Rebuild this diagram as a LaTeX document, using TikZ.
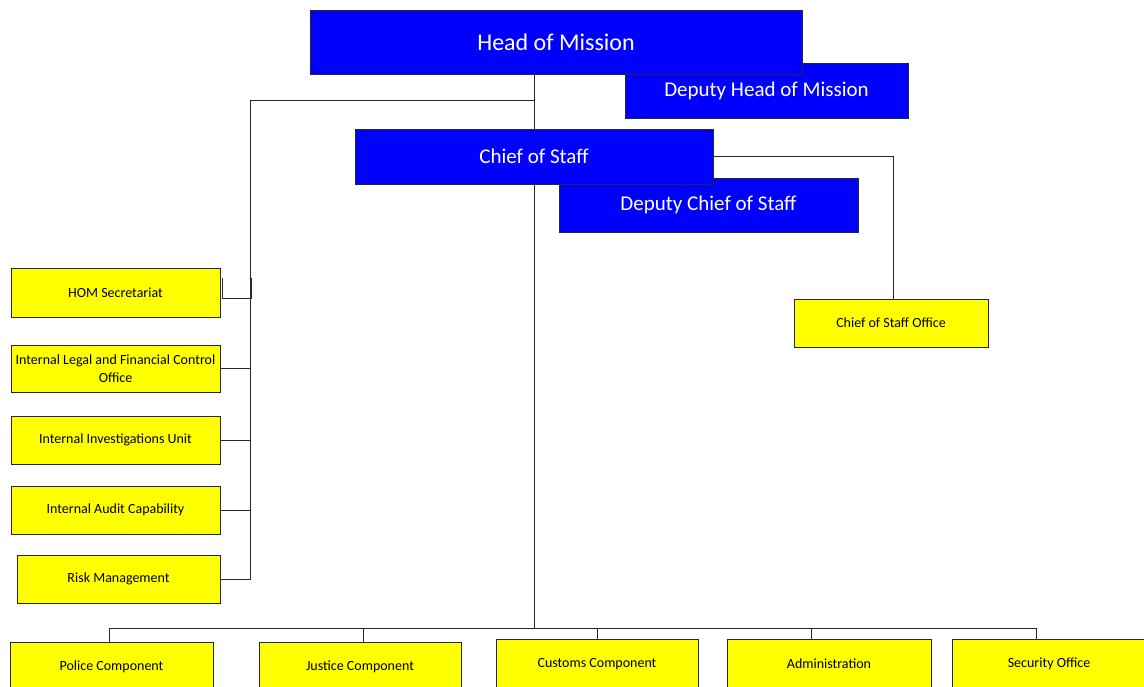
\documentclass[tikz,border=0pt]{standalone}
\usepackage{fontspec}
\setmainfont{Carlito}
\usetikzlibrary{calc}
\definecolor{boxblue}{RGB}{0,0,255}
\definecolor{boxyellow}{RGB}{255,255,0}
\definecolor{edgegray}{RGB}{40,40,40}
\begin{document}
\begin{tikzpicture}[x=1pt,y=-1pt,
  bluebox/.style={draw=edgegray, line width=0.9pt, fill=boxblue, text=white, inner sep=0pt, align=center},
  yelbox/.style={draw=edgegray, line width=0.9pt, fill=boxyellow, text=black, inner sep=0pt, align=center, font=\fontsize{14}{18}\selectfont},
  conn/.style={draw=edgegray, line width=0.9pt}]
\useasboundingbox (0,0) rectangle (1144,686);
\clip (0,0) rectangle (1144,686);
\fill[white] (0,0) rectangle (1144,686);

% blue boxes (deputies behind)
\node[bluebox, minimum width=283pt, minimum height=55pt, font=\fontsize{21}{24}\selectfont] (dhom) at (766.5,90.5) {Deputy Head of Mission};
\node[bluebox, minimum width=492pt, minimum height=64pt, font=\fontsize{24}{28}\selectfont] (hom) at (556,42) {Head of Mission};
\node[bluebox, minimum width=299pt, minimum height=54pt, font=\fontsize{21}{24}\selectfont] (dcos) at (708.5,205) {Deputy Chief of Staff};
\node[bluebox, minimum width=358pt, minimum height=55pt, font=\fontsize{21}{24}\selectfont] (cos) at (534,156.5) {Chief of Staff};

% yellow boxes
\node[yelbox, minimum width=194pt, minimum height=48pt] (coso) at (891,323) {Chief of Staff Office};
\node[yelbox, minimum width=209pt, minimum height=49pt] (hsec) at (115.5,292.5) {HOM Secretariat};
\node[yelbox, minimum width=209pt, minimum height=47pt] (ilf) at (115.5,368.5) {Internal Legal and Financial Control\\Office};
\node[yelbox, minimum width=209pt, minimum height=48pt] (iiu) at (115.5,440) {Internal Investigations Unit};
\node[yelbox, minimum width=209pt, minimum height=48pt] (iac) at (115.5,510) {Internal Audit Capability};
\node[yelbox, minimum width=203pt, minimum height=48pt] (risk) at (118.5,579) {Risk Management};

\node[yelbox, minimum width=203pt, minimum height=50pt] (police) at (111.5,667) {Police Component};
\node[yelbox, minimum width=202pt, minimum height=50pt] (justice) at (360,667) {Justice Component};
\node[yelbox, minimum width=202pt, minimum height=50pt] (customs) at (597,664) {Customs Component};
\node[yelbox, minimum width=204pt, minimum height=50pt] (admin) at (829,664) {Administration};
\node[yelbox, minimum width=194pt, minimum height=50pt] (security) at (1049,664) {Security Office};

% connectors
\coordinate (j1) at (534,100);
\coordinate (lb) at (250,100);
\draw[conn] (hom.south -| cos.north) -- (cos.north);
\draw[conn] (j1) -- (lb) -- (lb |- risk.east) -- (risk.east);
\draw[conn] (ilf.east) -- (ilf.east -| lb);
\draw[conn] (iiu.east) -- (iiu.east -| lb);
\draw[conn] (iac.east) -- (iac.east -| lb);
\coordinate (hk) at ($(hsec.east)+(0,5.5)$);
\draw[conn] ($(hk)+(2,-20)$) -- ($(hk)+(2,0)$) -- ($(hk -| lb)+(1,0)$) -- ($(hk -| lb)+(1,-20)$);

\draw[conn] (cos.east) -| ($(coso.north)+(2,0)$);

\coordinate (bus) at (534,628);
\coordinate (tp) at ($(police.north)+(-2.5,0)$);
\coordinate (tj) at ($(justice.north)+(3,0)$);
\coordinate (tc) at (customs.north);
\coordinate (ta) at ($(admin.north)+(-18,0)$);
\coordinate (ts) at ($(security.north)+(-13,0)$);
\draw[conn] (cos.south) -- (bus);
\draw[conn] (tp |- bus) -- (ts |- bus);
\foreach \t in {tp,tj,tc,ta,ts} \draw[conn] (\t) -- (\t |- bus);
\end{tikzpicture}
\end{document}
